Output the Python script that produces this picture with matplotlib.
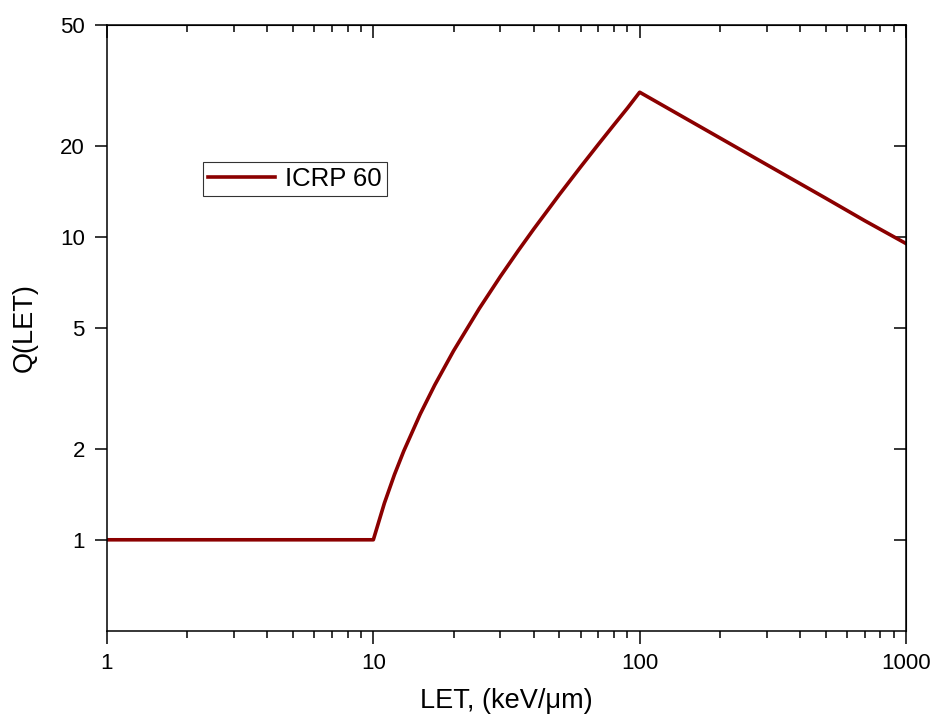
import matplotlib
matplotlib.use('Agg')
import matplotlib.pyplot as plt

# ICRP 60 quality factor
let_values = [1, 10, 11, 12, 13, 15, 17, 20, 25, 30, 35, 40, 50, 60, 70, 80, 90, 100,
              200, 300, 500, 700, 1000]
q_values = [1, 1, 1.32, 1.64, 1.96, 2.6, 3.24, 4.2, 5.8, 7.4, 9.0, 10.6, 13.8, 17.0, 20.2,
            23.4, 26.6, 30, 21.2, 17.3, 13.4, 11.3, 9.5]

x_ticks = [1, 10, 100, 1000]
x_labels = ['1', '10', '100', '1000']
y_ticks = [1, 2, 5, 10, 20, 50]
y_labels = ['1', '2', '5', '10', '20', '50']

plt.rcParams['font.family'] = ['Liberation Sans', 'DejaVu Sans']

fig = plt.figure(figsize=(9.33, 7.17), dpi=100)
ax = fig.add_axes([107 / 933, 86 / 717, 799 / 933, 606 / 717])

ax.plot(let_values, q_values, '-', color='#8b0000', lw=2.6, label='ICRP 60')

ax.set_xscale('log')
ax.set_yscale('log')
ax.set_xlim(1, 1000)
ax.set_ylim(0.5, 50)

ax.set_xticks(x_ticks)
ax.set_xticklabels(x_labels)
ax.set_yticks(y_ticks)
ax.set_yticklabels(y_labels)
ax.yaxis.set_minor_locator(matplotlib.ticker.NullLocator())

for s in ax.spines.values():
  s.set_linewidth(1.1)

ax.tick_params(which='major', direction='out', length=9, width=1.1, labelsize=16, pad=7)
ax.tick_params(which='minor', direction='out', length=5, width=1.1)

# mirrored axes with inward ticks and no labels
top = ax.secondary_xaxis('top')
top.set_xticks(x_ticks)
top.set_xticklabels([])
top.tick_params(which='major', direction='in', length=9, width=1.1)
top.tick_params(which='minor', direction='in', length=5, width=1.1)

right = ax.secondary_yaxis('right')
right.set_yticks(y_ticks)
right.set_yticklabels([])
right.yaxis.set_minor_locator(matplotlib.ticker.NullLocator())
right.tick_params(which='major', direction='in', length=9, width=1.1)

ax.set_xlabel('LET, (keV/μm)', fontsize=19.5, labelpad=10)
ax.set_ylabel('Q(LET)', fontsize=19.5, labelpad=16)

leg = ax.legend(loc='upper left', bbox_to_anchor=(0.12, 0.774), borderaxespad=0,
                fontsize=18.5, frameon=True, fancybox=False, handlelength=2.6,
                handletextpad=0.4, borderpad=0.2)
leg.get_frame().set_edgecolor('black')
leg.get_frame().set_linewidth(0.8)

fig.savefig('out.png', dpi=100)
